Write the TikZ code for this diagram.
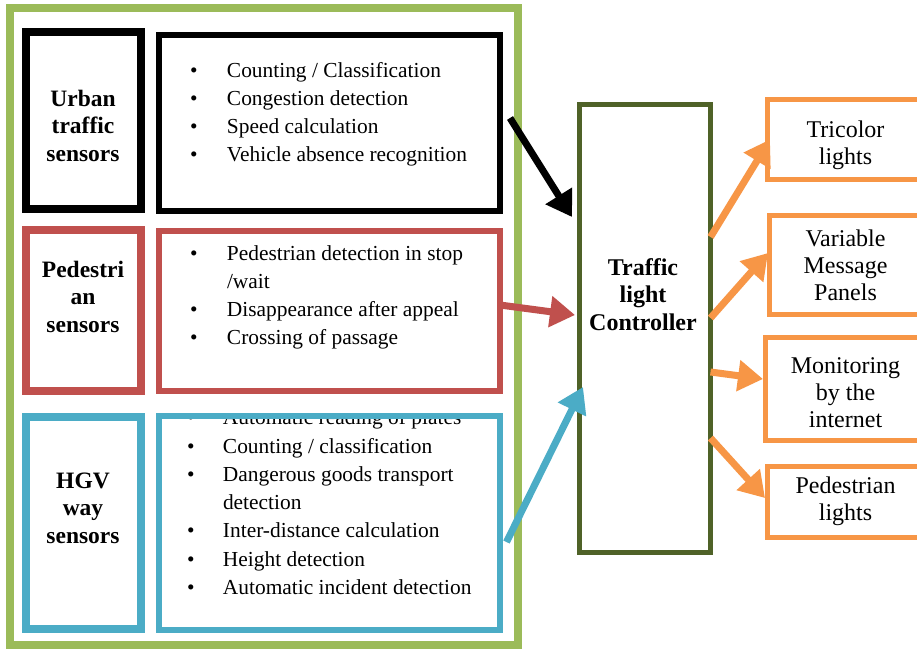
\documentclass[tikz,border=0pt]{standalone}
\usepackage{fontspec}
\setmainfont{Liberation Serif}
\usetikzlibrary{arrows.meta}
\definecolor{ogreen}{RGB}{155,187,89}
\definecolor{ored}{RGB}{192,80,77}
\definecolor{oblue}{RGB}{75,172,198}
\definecolor{oolive}{RGB}{79,98,40}
\definecolor{oorange}{RGB}{247,150,70}
\newcommand{\itm}{\makebox[37pt][l]{\textbullet}}
\newcommand{\itmb}{\makebox[36pt][l]{\textbullet}}
\begin{document}
\begin{tikzpicture}[x=1pt,y=-1pt,
  box/.style={draw, rectangle, inner sep=0pt, outer sep=0pt},
  lbl/.style={inner sep=0pt, outer sep=0pt, anchor=base, font=\fontsize{23.5}{27.5}\selectfont\bfseries},
  lst/.style={inner sep=0pt, outer sep=0pt, anchor=base west, font=\fontsize{21.4}{28.3}\selectfont},
  outtxt/.style={inner sep=0pt, outer sep=0pt, anchor=base, font=\fontsize{24}{27.4}\selectfont},
  arr/.style={line width=7pt, -{Triangle[width=30pt,length=25pt]}},
]
\useasboundingbox (0,0) rectangle (917,649);
\fill[white] (0,0) rectangle (917,649);

% texts
\node[lst] (t1) at (190,77) {\begin{tabular}[t]{@{}l@{}}
\itm Counting / Classification\\
\itm Congestion detection\\
\itm Speed calculation\\
\itm Vehicle absence recognition
\end{tabular}};
\node[lst] (t2) at (190,260) {\begin{tabular}[t]{@{}l@{}}
\itm Pedestrian detection in stop\\
\hspace*{37pt}/wait\\
\itm Disappearance after appeal\\
\itm Crossing of passage
\end{tabular}};
\begin{scope}
\clip (150,414) rectangle (510,640);
\node[lst] (t3) at (187,424.7) {\begin{tabular}[t]{@{}l@{}}
\itmb Automatic reading of plates\\
\itmb Counting / classification\\
\itmb Dangerous goods transport\\
\hspace*{36pt}detection\\
\itmb Inter-distance calculation\\
\itmb Height detection\\
\itmb Automatic incident detection
\end{tabular}};
\end{scope}

\node[lbl] (l1) at (83,106) {\begin{tabular}[t]{@{}c@{}}Urban\\traffic\\sensors\end{tabular}};
\node[lbl] (l2) at (83,277) {\begin{tabular}[t]{@{}c@{}}Pedestri\\an\\sensors\end{tabular}};
\node[lbl] (l3) at (83,488) {\begin{tabular}[t]{@{}c@{}}HGV\\way\\sensors\end{tabular}};
\node[lbl, font=\fontsize{24}{27.5}\selectfont\bfseries] (lc) at (643,275) {\begin{tabular}[t]{@{}c@{}}Traffic\\light\\Controller\end{tabular}};

\node[outtxt] (o1) at (845.5,137) {\begin{tabular}[t]{@{}c@{}}Tricolor\\lights\end{tabular}};
\node[outtxt] (o2) at (845.5,246) {\begin{tabular}[t]{@{}c@{}}Variable\\Message\\Panels\end{tabular}};
\node[outtxt] (o3) at (845.5,373) {\begin{tabular}[t]{@{}c@{}}Monitoring\\by the\\internet\end{tabular}};
\node[outtxt] (o4) at (845.5,493) {\begin{tabular}[t]{@{}c@{}}Pedestrian\\lights\end{tabular}};

% boxes
\node[box, line width=8pt, draw=ogreen, minimum width=508pt, minimum height=637pt] (frame) at (263.5,326.5) {};
\node[box, line width=8pt, draw=black, minimum width=114.5pt, minimum height=177pt] (urbanL) at (83.25,120.5) {};
\node[box, line width=6pt, draw=black, minimum width=341.5pt, minimum height=176pt] (urbanR) at (329.25,122.5) {};
\node[box, line width=8pt, draw=ored, minimum width=114.5pt, minimum height=161pt] (pedL) at (83.25,310.5) {};
\node[box, line width=6pt, draw=ored, minimum width=341.5pt, minimum height=160pt] (pedR) at (329.25,310.5) {};
\node[box, line width=8pt, draw=oblue, minimum width=114.5pt, minimum height=212pt] (hgvL) at (83.25,523) {};
\node[box, line width=6pt, draw=oblue, minimum width=341.5pt, minimum height=214pt] (hgvR) at (329.25,522.5) {};
\node[box, line width=5.5pt, draw=oolive, minimum width=131pt, minimum height=448pt] (ctrl) at (645,328.5) {};
\node[box, line width=5.5pt, draw=oorange, minimum width=162.5pt, minimum height=80pt, anchor=west] (tri) at (767.5,139.5) {};
\node[box, line width=5.5pt, draw=oorange, minimum width=160.5pt, minimum height=99pt, anchor=west] (vmp) at (769.5,265) {};
\node[box, line width=5.5pt, draw=oorange, minimum width=164.5pt, minimum height=103pt, anchor=west] (mon) at (765.5,389) {};
\node[box, line width=5.5pt, draw=oorange, minimum width=162.5pt, minimum height=71pt, anchor=west] (pl) at (767.5,502) {};

% arrows
\draw[arr, draw=black] ([xshift=10pt,yshift=4.5pt]urbanR.east) -- ([xshift=-7.5pt,yshift=111.5pt]ctrl.west);
\draw[arr, draw=ored] ([xshift=0pt,yshift=5.5pt]pedR.east) -- ([xshift=-4.5pt,yshift=13.5pt]ctrl.west);
\draw[arr, draw=oblue] ([xshift=6.5pt,yshift=-19.5pt]hgvR.east) -- ([xshift=3.5pt,yshift=-58.5pt]ctrl.west);
\draw[arr, draw=oorange] ([yshift=91.5pt]ctrl.east) -- ([xshift=2.5pt]tri.west);
\draw[arr, draw=oorange] ([yshift=10.5pt]ctrl.east) -- ([xshift=-1.5pt,yshift=12pt]vmp.west);
\draw[arr, draw=oorange] ([yshift=-43.5pt]ctrl.east) -- ([xshift=-2.5pt,yshift=10pt]mon.west);
\draw[arr, draw=oorange] ([yshift=-109.5pt]ctrl.east) -- ([xshift=-2.5pt,yshift=4pt]pl.west);
\end{tikzpicture}
\end{document}
